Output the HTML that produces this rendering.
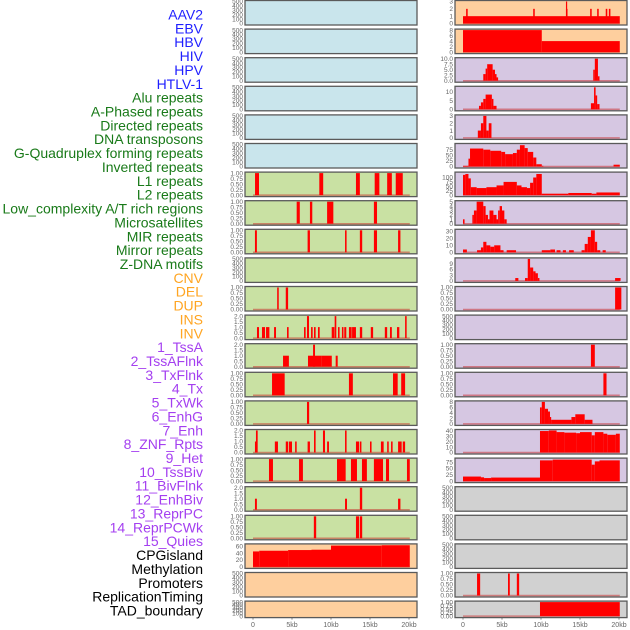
<!DOCTYPE html>
<html><head><meta charset="utf-8"><style>
html,body{margin:0;padding:0;background:#fff;}
svg{display:block;font-family:"Liberation Sans",sans-serif;}
</style></head><body>
<svg id="chart" width="630" height="630" viewBox="0 0 630 630" xmlns="http://www.w3.org/2000/svg"></svg>
<script>
// ---- data ----
const labelNames = ["AAV2","EBV","HBV","HIV","HPV","HTLV-1","Alu repeats","A-Phased repeats","Directed repeats","DNA transposons","G-Quadruplex forming repeats","Inverted repeats","L1 repeats","L2 repeats","Low_complexity A/T rich regions","Microsatellites","MIR repeats","Mirror repeats","Z-DNA motifs","CNV","DEL","DUP","INS","INV","1_TssA","2_TssAFlnk","3_TxFlnk","4_Tx","5_TxWk","6_EnhG","7_Enh","8_ZNF_Rpts","9_Het","10_TssBiv","11_BivFlnk","12_EnhBiv","13_ReprPC","14_ReprPCWk","15_Quies","CPGisland","Methylation","Promoters","ReplicationTiming","TAD_boundary"];
const labelGroups = [0,0,0,0,0,0,1,1,1,1,1,1,1,1,1,1,1,1,1,2,2,2,2,2,3,3,3,3,3,3,3,3,3,3,3,3,3,3,3,4,4,4,4,4];
const xTickKb = [0,5,10,15,20];
const xTickLabels = ["0","5kb","10kb","15kb","20kb"];

const E = [0,100,200,300,400,500];
const U = [0,0.25,0.5,0.75,1];
const T = [0,0.5,1,1.5,2];

const leftBg = ["b","b","b","b","b","b","g","g","g","g","g","g","g","g","g","g","g","g","g","o","o","o"];
const leftTicks = [E,E,E,E,E,E,U,U,U,E,U,T,T,U,U,T,U,T,U,[0,20,40,60],E,E];
const leftYmax = [500,500,500,500,500,500,1,1,1,500,1,2,2,1,1,2,1,2,1,64,500,500];
const leftSeries = [
 [],[],[],[],[],[],
 [[0.26,0.77,1],[8.5,9.0,1],[13.2,13.7,1],[15.6,16.2,1],[17.2,17.8,1],[18.3,19.2,1]],
 [[5.6,6.0,1],[7.3,7.6,1],[9.5,10.3,1],[15.5,15.9,1]],
 [[0.25,0.5,1],[7.0,7.3,1],[11.8,12.0,1],[13.7,14.0,1],[15.5,15.9,1],[18.6,18.9,1]],
 [],
 [[3.1,3.3,1],[4.2,4.5,1]],
 [[0.51,0.77,1],[1.15,1.54,1],[1.67,2.1,1],[2.7,2.95,1],[4.36,4.57,1],[6.54,6.75,1],[6.92,7.18,2],[7.44,7.65,1],[7.82,8.03,1],[8.33,8.55,1],[10.09,10.43,1],[10.47,10.68,2],[10.9,11.1,1],[11.4,11.6,1],[11.7,11.96,1],[12.3,12.65,1],[12.7,13.2,1],[13.7,14.0,1],[15.1,15.4,1],[16.9,17.2,1],[17.56,17.8,1],[18.46,18.76,1],[19.5,19.7,2]],
 [[3.85,4.6,1],[7.05,8.76,1],[7.7,7.95,2],[8.76,10.1,1],[10.6,10.86,1]],
 [[2.44,4.06,1],[12.3,12.8,1],[17.95,18.55,1],[19.0,19.5,1]],
 [[6.92,7.2,1]],
 [[0.25,0.5,1],[0.38,0.6,2],[2.8,3.2,1],[4.2,4.5,1],[4.6,5.0,1],[5.4,5.6,1],[7.0,7.3,1],[7.82,8.03,2],[8.97,9.23,2],[9.5,9.74,1],[11.8,12.0,2],[13.2,13.6,1],[13.7,13.9,1],[15.0,15.2,1],[16.4,16.75,1],[17.2,17.4,1],[17.7,17.9,1],[18.6,19.06,1],[19.2,19.5,1]],
 [[2.05,2.56,1],[5.9,6.4,1],[10.77,11.88,1],[12.56,13.33,1],[13.97,14.6,1],[15.5,16.67,1],[17.05,17.44,1],[19.74,20.1,1]],
 [[0.25,0.5,1],[11.8,12.05,1],[13.7,14.0,2],[18.6,18.9,1]],
 [[7.8,8.1,1],[13.2,13.6,1],[13.7,14.0,1]],
 [[0,0.8,45],[0.8,4.5,47],[4.5,7.5,49],[7.5,10,50],[10,16.5,62],[16.5,20.1,63]],
 [],[]
];

const rightBg = ["o","o","p","p","p","p","p","p","p","p","p","p","p","p","p","p","p","y","y","y","y","y"];
const rightTicks = [[0,1,2,3],[0,2,4,6,8],[0,2.5,5,7.5,10],[0,5,10],[0,1,2,3],[0,25,50,75],[0,25,50,75,100],[0,1,2,3,4,5],[0,10,20,30],[0,3,6,9],U,E,U,U,[0,2,4,6,8],[0,10,20,30,40],[0,25,50,75],E,E,E,U,U];
const rightTickFmt = [0,0,1,0,0,0,0,0,0,0,2,0,2,2,0,0,0,0,0,0,2,2];
const rightYmax = [3,8,10,12.7,3,98,125,5,31.5,11.5,1,500,1,1,8,41,87,500,500,500,1,1];
const rightSeries = [
 [[0,20.1,1],[0.4,0.6,2],[9.0,9.2,2],[13.2,13.4,2],[13.2,13.3,3],[16.3,16.5,2],[17.2,17.4,2],[18.3,18.5,2],[18.7,18.9,2]],
 [[0,10.1,8],[10.1,20.1,4]],
 [[2.6,2.9,3],[2.9,3.1,5.5],[3.1,3.8,7.5],[3.8,4.1,5],[4.1,4.3,3],[4.3,4.5,1.5],[16.7,16.9,5],[16.9,17.3,10],[17.3,17.5,2]],
 [[2.05,2.3,2],[2.3,2.6,4],[2.6,2.9,6],[2.9,3.7,8.5],[3.7,3.9,6],[3.9,4.3,2],[16.4,16.8,3.5],[16.8,17.0,12.7],[17.0,17.2,8],[17.2,17.5,3]],
 [[1.9,2.3,1],[2.3,2.6,2],[2.6,3.0,3],[3.0,3.3,1],[3.3,3.65,2]],
 [[0,0.7,3],[0.7,0.9,35],[0.9,2.6,80],[2.6,3.5,75],[3.5,4.9,70],[4.9,5.4,65],[5.4,6.4,55],[6.4,6.9,60],[6.9,7.3,75],[7.3,7.9,95],[7.9,8.3,82],[8.3,9.0,65],[9.0,9.4,40],[9.4,10.1,10],[10.1,10.3,3],[19.3,20.1,8]],
 [[0,0.3,115],[0.3,0.7,120],[0.7,1.0,95],[1.0,1.75,45],[1.75,3.0,40],[3.0,4.3,45],[4.3,5.2,55],[5.2,6.9,75],[6.9,7.5,55],[7.5,8.2,45],[8.2,8.6,40],[8.6,9.0,70],[9.0,9.4,100],[9.4,10.1,120],[10.1,13.5,8],[13.5,16.5,12],[16.5,17.1,8],[17.1,20.1,15]],
 [[0,0.2,1],[1.2,1.4,2],[1.4,1.75,3],[1.75,2.6,5],[2.6,2.9,4],[2.9,3.2,2],[3.2,3.4,1],[3.4,3.9,3],[3.9,4.3,2],[4.3,4.5,1],[4.5,4.7,3],[4.7,5.0,4],[5.0,5.3,3],[5.3,5.6,1]],
 [[0,0.5,4],[1.8,2.3,3],[2.3,2.6,7],[2.6,3.0,15],[3.0,3.5,10],[3.5,4.0,8],[4.0,4.8,10],[4.8,5.2,3],[5.6,6.8,3],[10.1,11.2,3],[11.2,11.8,4],[12.0,12.5,3],[12.8,13.2,3],[13.6,14.2,3],[15.2,15.6,3],[15.6,16.0,12],[16.0,16.4,22],[16.4,16.9,31.5],[16.9,17.2,15],[17.2,17.6,3],[17.9,18.3,3]],
 [[6.7,7.1,1.5],[7.95,8.3,1.5],[8.3,8.6,11.5],[8.6,9.0,7],[9.0,9.3,5],[9.3,9.6,4],[9.6,9.8,1.5],[19.5,20.2,1.5]],
 [[19.5,20.3,1]],
 [],
 [[16.4,16.9,1]],
 [[18.0,18.4,1]],
 [[9.87,10.1,6],[10.1,10.5,8],[10.5,10.9,5.5],[10.9,11.15,4.5],[11.15,11.3,2.5],[11.3,13.9,1.5],[13.9,14.4,2.5],[14.4,15.6,3.5],[15.6,16.6,1.5]],
 [[9.87,11,40],[11,12,41],[12,13,38],[13,14.5,37],[14.5,15,36],[15,16.5,38],[16.5,16.9,32],[16.9,18.0,38],[18.0,18.5,35],[18.5,19.6,33],[19.6,20.1,35]],
 [[0,2.3,18],[2.3,2.7,15],[2.7,3.6,12],[3.6,9.87,14],[9.87,11.5,82],[11.5,16.5,85],[16.5,16.9,65],[16.9,17.5,78],[17.5,20.1,82]],
 [],[],[],
 [[1.8,2.2,1],[5.77,6.0,1],[6.9,7.2,1]],
 [[9.87,20.1,1]]
];

// ---- layout ----
const NS = "http://www.w3.org/2000/svg";
const svg = document.getElementById("chart");
const bgColors = {b:"#c9e5ec",g:"#c9e1a3",o:"#fecf9e",p:"#d6c7e2",y:"#d1d1d1"};
const labelColors = ["#1f1fff","#197a19","#ffa522","#a43ff0","#000000"];
const PITCH = 28.6, PH = 24.5, LASTH = 16.5;
const cols = [{x:245, x0:253}, {x:455, x0:463}];
const PW = 172, KBPX = 7.8;
function xScale(col, kb){ return cols[col].x0 + kb*KBPX; }
function rowTop(i){ return i*PITCH + 0.5; }
function rowH(i){ return i===21 ? LASTH : PH; }
function yScale(i, v, ymax){ const t=rowTop(i), h=rowH(i); return t+h-1.5 - (v/ymax)*(h-2.5); }
function mk(tag, attrs){ const e=document.createElementNS(NS,tag); for(const k in attrs) e.setAttribute(k, attrs[k]); svg.appendChild(e); return e; }
function fmt(v, d){ return d>0 ? v.toFixed(d) : String(v); }

// labels
labelNames.forEach((n,i)=>{
  const t = mk("text",{x:203,y:19.5+i*13.86,"text-anchor":"end","font-size":"14",fill:labelColors[labelGroups[i]]});
  t.textContent = n;
  
  
});

function drawPanel(col, i, bg, ticks, ymax, series, dec){
  const side = col===0 ? "left" : "right";
  const t=rowTop(i), h=rowH(i), x=cols[col].x;
  const r = mk("rect",{x:x, y:t, width:PW, height:h, fill:bgColors[bg], stroke:"#5a5a5a","stroke-width":"1.3"});
  
  
  ticks.forEach(v=>{
    const tt = mk("text",{x:x-2, y:yScale(i,v,ymax)+2.2, "text-anchor":"end","font-size":"6.5",fill:"#666"});
    tt.textContent = fmt(v, dec);
    
    
  });
  if(series.length){
    const bl = mk("line",{x1:xScale(col,0), x2:xScale(col,20.1), y1:t+h-1.5, y2:t+h-1.5, stroke:"rgba(200,40,40,0.5)","stroke-width":"1.5"});
    
    
  }
  series.forEach(s=>{
    const x1 = xScale(col,s[0]), x2 = xScale(col,s[1]);
    const y = yScale(i,s[2],ymax), yb = yScale(i,0,ymax);
    const b = mk("rect",{x:x1, y:y, width:Math.max(1.2,x2-x1), height:Math.max(0,yb-y), fill:"#ff0000"});
    
    
  });
}
for(let i=0;i<22;i++){
  const ld = leftTicks[i]===U ? 2 : (leftTicks[i]===T ? 1 : 0);
  drawPanel(0, i, leftBg[i], leftTicks[i], leftYmax[i], leftSeries[i], ld);
  drawPanel(1, i, rightBg[i], rightTicks[i], rightYmax[i], rightSeries[i], rightTickFmt[i]);
}
// x axes
[0,1].forEach(col=>{
  const yb = rowTop(21)+LASTH;
  xTickKb.forEach((kb,j)=>{
    const tk = mk("line",{x1:xScale(col,kb),x2:xScale(col,kb),y1:yb,y2:yb+2,stroke:"#666","stroke-width":"0.8"});
    
    
    const tl = mk("text",{x:xScale(col,kb), y:yb+9.5, "text-anchor":"middle","font-size":"7",fill:"#666"});
    tl.textContent = xTickLabels[j];
    
    
  });
});
</script>
</body></html>
